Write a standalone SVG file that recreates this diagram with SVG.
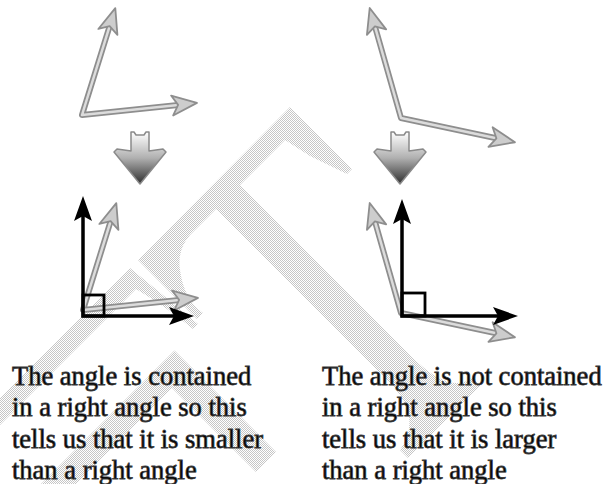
<svg xmlns="http://www.w3.org/2000/svg" width="605" height="484" viewBox="0 0 605 484">
<defs>
  <pattern id="hatch" width="2" height="2" patternUnits="userSpaceOnUse">
    <rect width="2" height="2" fill="#ffffff"/>
    <rect x="0" y="0" width="1" height="1" fill="#c6c6c6"/>
    <rect x="1" y="1" width="1" height="1" fill="#c6c6c6"/>
  </pattern>
  <linearGradient id="dgrad" x1="0" y1="0" x2="0" y2="1">
    <stop offset="0" stop-color="#ffffff"/>
    <stop offset="0.5" stop-color="#b0b0b0"/>
    <stop offset="1" stop-color="#2e2e2e"/>
  </linearGradient>
  <marker id="ghead" viewBox="0 -13 32 26" markerWidth="32" markerHeight="26" refX="6" refY="0" markerUnits="userSpaceOnUse" orient="auto-start-reverse" overflow="visible">
    <path d="M25,0 L0,-10 L6,0 L0,10 Z" fill="#cdcdcd" stroke="#8e8e8e" stroke-width="1.8" stroke-linejoin="round"/>
  </marker>
  <marker id="bhead" viewBox="0 -12 30 24" markerWidth="30" markerHeight="24" refX="5" refY="0" markerUnits="userSpaceOnUse" orient="auto-start-reverse" overflow="visible">
    <path d="M25,0 L0,-9 L5,0 L0,9 Z" fill="#000000"/>
  </marker>
  <path id="downArrow" d="M131,132 L134,132 L136,135 L144,135 L146,132 L149,132 L149,151 L163,149 L166,152 L140,184 L114,152 L117,149 L131,151 Z"/>
</defs>
<style>
  .wm{fill:url(#hatch)}
  .garm-o{fill:none;stroke:#8e8e8e;stroke-width:6;stroke-linejoin:round}
  .garm-i{fill:none;stroke:#dcdcdc;stroke-width:2.5;stroke-linejoin:round;marker-start:url(#ghead);marker-end:url(#ghead)}
  .barm{fill:none;stroke:#000;stroke-width:3.5;marker-start:url(#bhead);marker-end:url(#bhead)}
  .sq{fill:none;stroke:#000;stroke-width:2.8}
  .down{fill:url(#dgrad);stroke:#8a8a8a;stroke-width:1.5;stroke-linejoin:round}
  .txt{font-size:26.5px;fill:#000;stroke:#3a3a3a;stroke-width:0.8}
</style>
<rect width="605" height="484" fill="#ffffff"/>

<g id="watermark">
  <path class="wm" d="M290,107 L352,169 L347,174 L310,156 Q296,147 285,140 L240,185 L412.5,357.5 Q450,395 472.5,377.5 L480.5,385.5 L408,458 L400,450 Q423.5,416.5 388.5,381.5 L223.5,216.5 L216,209 L190,235 Q177,250 180,270 Q184,300 203,313 L197,319 L138,260 Z"/>
  <path class="wm" d="M130,268 L198,324 L193,329 Q165,306 136,289 L0,425 L0,398 Z"/>
  <path class="wm" d="M174.5,350.5 L276,452 L256,472 L172,388 L76,484 L41,484 Z"/>
</g>

<g id="angle-top-left">
  <path class="garm-o" d="M109.65,26.2 L82,115 L178.1,104.9"/>
  <path class="garm-i" d="M109.65,26.2 L82,115 L178.1,104.9"/>
</g>
<g id="angle-top-right">
  <path class="garm-o" d="M374.9,26.3 L401,118 L496.4,138.3"/>
  <path class="garm-i" d="M374.9,26.3 L401,118 L496.4,138.3"/>
</g>

<g id="down-arrow-left">
  <use href="#downArrow" class="down"/>
</g>
<g id="down-arrow-right">
  <use href="#downArrow" class="down" transform="translate(260,0)"/>
</g>

<g id="compare-left">
  <g transform="translate(1,195)">
    <path class="garm-o" d="M109.65,26.2 L82,115 L178.1,104.9"/>
    <path class="garm-i" d="M109.65,26.2 L82,115 L178.1,104.9"/>
  </g>
  <path class="barm" d="M83,216 L83,316 L174,316"/>
  <rect class="sq" x="83" y="295" width="21" height="21"/>
</g>

<g id="compare-right">
  <g transform="translate(0,195)">
    <path class="garm-o" d="M374.9,26.3 L401,118 L496.4,138.3"/>
    <path class="garm-i" d="M374.9,26.3 L401,118 L496.4,138.3"/>
  </g>
  <path class="barm" d="M402,219 L402,316 L498,316"/>
  <rect class="sq" x="402" y="293" width="23" height="23"/>
</g>

<g id="text-left" class="txt" font-family="'Liberation Serif', 'DejaVu Serif', 'Times New Roman', serif">
  <text x="12" y="385">The angle is contained</text>
  <text x="12" y="416">in a right angle so this</text>
  <text x="12" y="448">tells us that it is smaller</text>
  <text x="12" y="479">than a right angle</text>
</g>
<g id="text-right" class="txt" font-family="'Liberation Serif', 'DejaVu Serif', 'Times New Roman', serif">
  <text x="322" y="385">The angle is not contained</text>
  <text x="322" y="416">in a right angle so this</text>
  <text x="322" y="448">tells us that it is larger</text>
  <text x="322" y="479">than a right angle</text>
</g>
</svg>
